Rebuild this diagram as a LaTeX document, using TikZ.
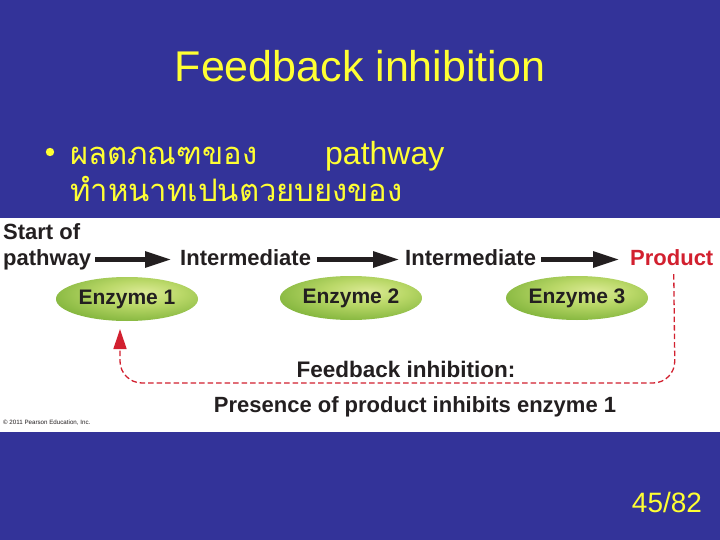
\documentclass[tikz,border=0pt]{standalone}
\usepackage{fontspec}
\setmainfont{Liberation Sans}
\newfontfamily\thaifont[Script=Thai]{Loma}
\usetikzlibrary{shapes.geometric,arrows.meta,calc}
\definecolor{bgblue}{RGB}{51,51,153}
\definecolor{ttlyellow}{RGB}{255,255,51}
\definecolor{prodred}{RGB}{210,32,47}
\definecolor{ink}{RGB}{35,31,32}
\definecolor{enzA}{RGB}{220,234,150}
\definecolor{enzB}{RGB}{186,216,104}
\definecolor{enzC}{RGB}{132,182,62}
\definecolor{enzD}{RGB}{96,150,40}
\pgfdeclareradialshading{enzshade}{\pgfpoint{6bp}{8bp}}{%
  color(0bp)=(enzA);
  color(14bp)=(enzB);
  color(32bp)=(enzC);
  color(52bp)=(enzD);
  color(100bp)=(enzD)}
\tikzset{
  lbl/.style={inner sep=0pt, anchor=base west, text=ink, font=\fontsize{22}{25}\selectfont\bfseries, text height=16pt, text depth=5pt},
  enz/.style={ellipse, inner sep=0pt, minimum width=142pt, minimum height=44pt, shading=enzshade, text=ink, font=\fontsize{21}{24}\selectfont\bfseries},
  bigarrow/.style={line width=5.5pt, ink, -{Triangle[length=27pt,width=15pt]}},
  fb/.style={prodred, line width=1.3pt, dash pattern=on 5.5pt off 3pt, rounded corners=22pt},
  fbtip/.style={-{Triangle[length=20pt,width=13pt]}}
}
\begin{document}
\begin{tikzpicture}[x=1pt,y=-1pt]
\fill[bgblue] (0,0) rectangle (720,540);
\useasboundingbox (0,0) rectangle (720,540);
% title
\node[inner sep=0pt, anchor=base, text=ttlyellow, font=\fontsize{43}{48}\selectfont] (title) at (360,82) {Feedback inhibition};
% bullet text
\fill[ttlyellow] (50,152) circle (4.2pt);
\node[inner sep=0pt, anchor=base west, text=ttlyellow, font=\fontsize{31}{36}\selectfont\thaifont] (th1) at (70,165) {ผลตภณฑของ};
\node[inner sep=0pt, anchor=base west, text=ttlyellow, font=\fontsize{32}{36}\selectfont] (pw) at (325,165) {pathway};
\node[inner sep=0pt, anchor=base west, text=ttlyellow, font=\fontsize{31}{36}\selectfont\thaifont] (th2) at (70,202) {ทำหนาทเปนตวยบยงของ};
% figure panel
\fill[white] (0,218) rectangle (720,432);
\node[lbl] (s1) at (3,240) {Start of};
\node[lbl] (s2) at (3,265) {pathway};
\node[lbl] (i1) at (180,265) {Intermediate};
\node[lbl] (i2) at (405,265) {Intermediate};
\node[lbl, text=prodred] (prod) at (630,265) {Product};
\draw[bigarrow] ([xshift=4pt]s2.east) -- ([xshift=-8pt]i1.west);
\draw[bigarrow] ([xshift=6pt]i1.east) -- ([xshift=-5pt]i2.west);
\draw[bigarrow] ([xshift=5pt]i2.east) -- ([xshift=-10pt]prod.west);
\node[enz] (e1) at (127,299) {Enzyme 1};
\node[enz] (e2) at (351,298) {Enzyme 2};
\node[enz] (e3) at (577,298) {Enzyme 3};
\coordinate (fbend) at (120,329);
\draw[fb] ([xshift=2pt,yshift=-4pt]prod.south) -- (675,383) -- (120,383) -- (120,346);
\draw[fb, fbtip, rounded corners=0pt, dash pattern=] (120,347) -- (fbend);
\node[inner sep=0pt, anchor=base, text=ink, font=\fontsize{22.5}{25}\selectfont\bfseries] (fbl) at (406,377) {Feedback inhibition:};
\node[inner sep=0pt, anchor=base, text=ink, font=\fontsize{22}{25}\selectfont\bfseries] (fbd) at (415,412) {Presence of product inhibits enzyme 1};
\node[inner sep=0pt, anchor=base west, text=ink, font=\fontsize{6.2}{7}\selectfont] (copy) at (3,424) {© 2011 Pearson Education, Inc.};
% page number
\node[inner sep=0pt, anchor=base, text=ttlyellow, font=\fontsize{28}{32}\selectfont] (pg) at (667,512) {45/82};
\end{tikzpicture}
\end{document}
